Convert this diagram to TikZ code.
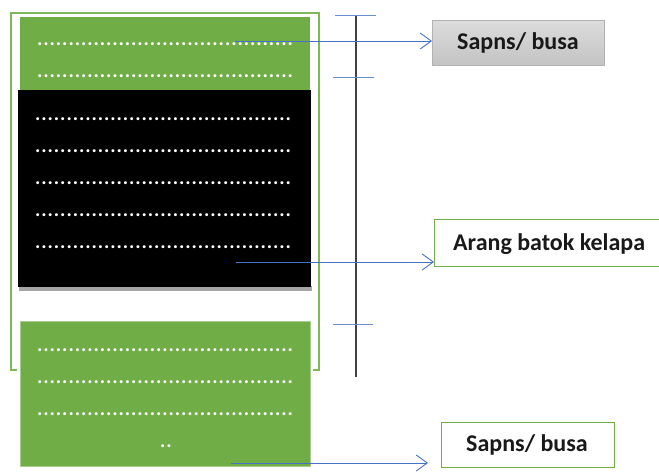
\documentclass[tikz,border=0pt]{standalone}
\usepackage{fontspec}
\setmainfont{Carlito}
\newfontfamily\dotfont[LetterSpace=4.6]{Carlito}
\usetikzlibrary{arrows.meta}
\definecolor{layergreen}{HTML}{70AD47}
\definecolor{bracketgreen}{HTML}{7DB955}
\definecolor{linkblue}{HTML}{4472C4}
\definecolor{boxgrayA}{HTML}{DCDCDC}
\definecolor{boxgrayB}{HTML}{C3C3C3}
\tikzset{
  dotrow/.style={text=white, font=\dotfont\bfseries\fontsize{20}{20}\selectfont, inner sep=0pt, anchor=west},
  link/.style={draw=linkblue, line width=0.9pt, -{Straight Barb[length=11pt,width=16pt,line width=0.9pt]}},
  tick/.style={draw=linkblue!80, line width=0.9pt},
  label/.style={font=\bfseries\fontsize{24}{26}\selectfont, text=black!90, inner sep=0pt, anchor=west},
}
\newcommand{\dotline}{.........................................}
\begin{document}
\begin{tikzpicture}[x=1pt,y=-1pt]
  \useasboundingbox (0,0) rectangle (659,472);
  \clip (0,0) rectangle (659,472);
  \fill[white] (0,0) rectangle (659,472);

  % open green bracket round the upper layers
  \draw[bracketgreen, line width=2pt] (17,370) -- (11,370) -- (11,13) -- (319,13) -- (319,370) -- (313,370);

  % top foam layer
  \fill[layergreen] (20,17) rectangle (310,90);
  \node[dotrow] (t1) at (37,44) {\dotline};
  \node[dotrow] (t2) at (37,76) {\dotline};

  % charcoal layer with its shadow
  \fill[black!35] (19,286) rectangle (312,291);
  \fill[black] (18,90) rectangle (311,287);
  \foreach \yy [count=\i] in {119,151,183,215,247}
    \node[dotrow] (c\i) at (35,\yy) {\dotline};

  % bottom foam layer
  \fill[layergreen] (20,321) rectangle (310,466);
  \draw[layergreen!60, line width=0.6pt] (20,321) rectangle (310,466);
  \foreach \yy [count=\i] in {350,382,414}
    \node[dotrow] (b\i) at (37,\yy) {\dotline};
  \node[dotrow, anchor=center] (b4) at (166,446) {..};

  % scale line with tick marks
  \coordinate (vtop) at (356,15);
  \coordinate (vbot) at (356,377);
  \draw[black!75, line width=1.2pt] (vtop) -- (vbot);
  \coordinate (k1a) at (335,15);  \coordinate (k1b) at (376,15);
  \coordinate (k2a) at (333,77);  \coordinate (k2b) at (374,77);
  \coordinate (k3a) at (333,324); \coordinate (k3b) at (373,324);
  \draw[tick] (k1a) -- (k1b);
  \draw[tick] (k2a) -- (k2b);
  \draw[tick] (k3a) -- (k3b);

  % label boxes
  \node[draw=black!30, line width=0.8pt, top color=boxgrayA, bottom color=boxgrayB,
        minimum width=172pt, minimum height=45pt, anchor=north west] (foamtop) at (432,20) {};
  \node[label] (foamtoptext) at (457,43) {Sapns/ busa};
  \node[draw=layergreen, line width=1.3pt, fill=white,
        minimum width=240pt, minimum height=47pt, anchor=north west] (charbox) at (434,219) {};
  \node[label] (chartext) at (453,244) {Arang batok kelapa};
  \node[draw=layergreen, line width=1.3pt, fill=white,
        minimum width=173pt, minimum height=45pt, anchor=north west] (foambot) at (441,422) {};
  \node[label] (foambottext) at (466,445) {Sapns/ busa};

  % connectors from the layers to their labels
  \coordinate (s1) at (235,41);
  \coordinate (s2) at (236,262);
  \coordinate (s3) at (231,463);
  \coordinate (e3) at (428,463);
  \draw[link] (s1) -- (s1 -| foamtop.west);
  \draw[link] (s2) -- (s2 -| charbox.west);
  \draw[link] (s3) -- (e3);
\end{tikzpicture}
\end{document}
